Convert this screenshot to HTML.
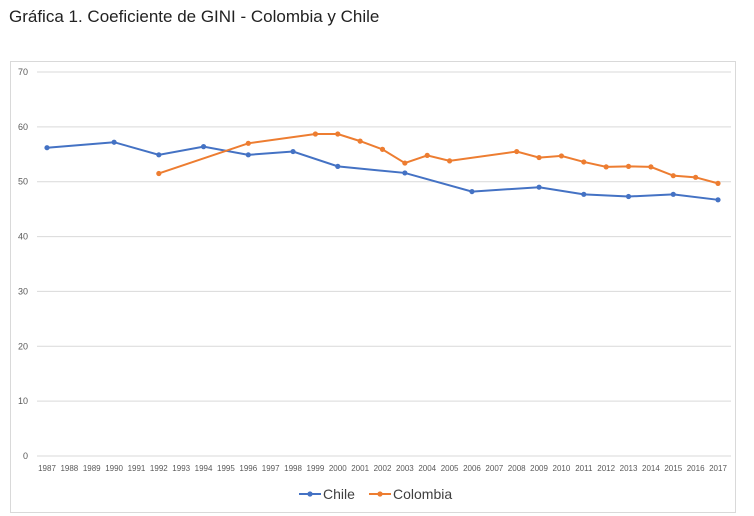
<!DOCTYPE html>
<html><head><meta charset="utf-8"><style>
body{margin:0;background:#fff;width:754px;height:516px;overflow:hidden;font-family:"Liberation Sans",sans-serif}
#title{position:absolute;left:9px;top:7px;font-size:17px;color:#222}
</style></head><body>
<div id="title">Gráfica 1. Coeficiente de GINI - Colombia y Chile</div>
<svg id="c" width="754" height="516" style="position:absolute;left:0;top:0">
<rect x="10.5" y="61.5" width="725" height="451" fill="none" stroke="#d9d9d9"/>
</svg>
<script>
const years=[];for(let y=1987;y<=2017;y++)years.push(y);
const yTicks=[0,10,20,30,40,50,60,70];
const chileYears=[1987,1990,1992,1994,1996,1998,2000,2003,2006,2009,2011,2013,2015,2017];
const chileVals=[56.2,57.2,54.9,56.4,54.9,55.5,52.8,51.6,48.2,49.0,47.7,47.3,47.7,46.7];
const colYears=[1992,1996,1999,2000,2001,2002,2003,2004,2005,2008,2009,2010,2011,2012,2013,2014,2015,2016,2017];
const colVals=[51.5,57.0,58.7,58.7,57.4,55.9,53.4,54.8,53.8,55.5,54.4,54.7,53.6,52.7,52.8,52.7,51.1,50.8,49.7];
const svg=document.getElementById('c');const NS='http://www.w3.org/2000/svg';
const X=y=>47+(y-1987)*(671/30);const Y=v=>456-v*(384/70);
function mk(t,a){const e=document.createElementNS(NS,t);for(const k in a)e.setAttribute(k,a[k]);svg.appendChild(e);return e;}
yTicks.forEach(t=>{const g=mk('line',{x1:37,x2:731,y1:Y(t),y2:Y(t),stroke:'#d9d9d9'});


const l=mk('text',{x:28,y:Y(t)+3,'font-size':9,fill:'#595959','text-anchor':'end'});l.textContent=t;

});
years.forEach(y=>{const l=mk('text',{x:X(y),y:471,'font-size':8,fill:'#595959','text-anchor':'middle'});l.textContent=y;

});
function series(ys,vs,col,name){const p=mk('polyline',{points:ys.map((y,i)=>X(y)+','+Y(vs[i])).join(' '),fill:'none',stroke:col,'stroke-width':2});


ys.forEach((y,i)=>{const c=mk('circle',{cx:X(y),cy:Y(vs[i]),r:2.6,fill:col});

});}
series(chileYears,chileVals,'#4472c4','chile');
series(colYears,colVals,'#ed7d31','colombia');
function leg(x,col,txt,name){const g=mk('g',{});

const l=document.createElementNS(NS,'line');l.setAttribute('x1',x);l.setAttribute('x2',x+22);l.setAttribute('y1',494);l.setAttribute('y2',494);l.setAttribute('stroke',col);l.setAttribute('stroke-width',2);g.appendChild(l);
const c=document.createElementNS(NS,'circle');c.setAttribute('cx',x+11);c.setAttribute('cy',494);c.setAttribute('r',2.6);c.setAttribute('fill',col);g.appendChild(c);
const t=document.createElementNS(NS,'text');t.setAttribute('x',x+24);t.setAttribute('y',499);t.setAttribute('font-size',14);t.setAttribute('fill','#404040');t.textContent=txt;g.appendChild(t);}
leg(299,'#4472c4','Chile','legend-chile');
leg(369,'#ed7d31','Colombia','legend-colombia');
</script>
</body></html>
